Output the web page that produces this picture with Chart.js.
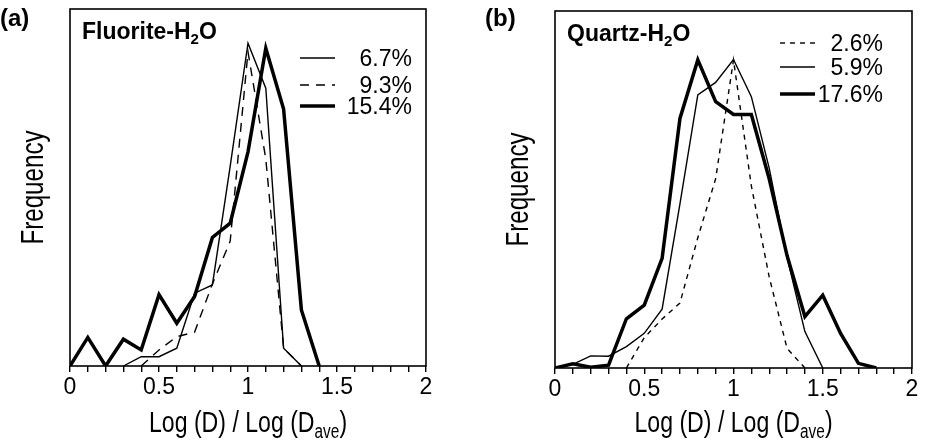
<!DOCTYPE html>
<html>
<head>
<meta charset="utf-8">
<script src="https://cdn.jsdelivr.net/npm/chart.js@4.4.1/dist/chart.umd.min.js"></script>
<style>
  html, body { margin: 0; padding: 0; background: #fff; }
  #wrap { position: relative; width: 930px; height: 443px; }
  canvas { position: absolute; top: 0; }
</style>
</head>
<body>
<div id="wrap">
  <canvas id="chartA" width="465" height="443" style="left:0"></canvas>
  <canvas id="chartB" width="465" height="443" style="left:465px"></canvas>
</div>
<script>
// (a) Fluorite-H2O
const xA = [0, 0.1, 0.2, 0.3, 0.4, 0.5, 0.6, 0.7, 0.8, 0.9, 1.0, 1.1, 1.2, 1.3, 1.4];
const fluorite67 = [null, null, null, 0, 2.6, 2.6, 5, 20.4, 22.7, 56, 90.4, 77.8, 5, 0, null];
const fluorite93 = [null, null, null, null, 0, 4.5, 8.2, 9.5, 23, 35, 88, 58, 5, 0, null];
const fluorite154 = [0, 8, 0, 7.5, 4.5, 20, 12, 19.5, 36, 40, 60, 89, 72, 15.7, 0];

// (b) Quartz-H2O
const xB = [0, 0.1, 0.2, 0.3, 0.4, 0.5, 0.6, 0.7, 0.8, 0.9, 1.0, 1.1, 1.2, 1.3, 1.4, 1.5, 1.6, 1.7, 1.8];
const quartz26 = [null, null, null, null, 0, 8.5, 13.7, 18.2, 36.5, 53, 86.3, 51, 25.5, 5.5, 0, null, null, null, null];
const quartz59 = [0, 1, 3.4, 3.3, 6, 9.7, 16.5, 46, 76.5, 80, 86.4, 76, 56, 31, 10.2, 0, null, null, null];
const quartz176 = [0, 1.2, 0.2, 0.8, 13.8, 17.6, 30.7, 69.9, 86.3, 74.6, 71, 71, 53, 31.5, 14.4, 20.4, 9.7, 1.3, 0];

const xTickLabels = ['0', '0.5', '1', '1.5', '2'];

const FONT = '"Liberation Sans", Arial, sans-serif';

function pts(xs, ys) {
  return xs.map((x, i) => ({ x: x, y: ys[i] }));
}

// text with a subscript part: [main, sub, rest]; k squeezes it sideways
function drawSub(ctx, parts, x, y, size, bold, align, k) {
  const w = bold ? 'bold ' : '';
  const big = w + size + 'px ' + FONT;
  const small = w + Math.round(size * 0.66) + 'px ' + FONT;
  ctx.font = big; const w1 = ctx.measureText(parts[0]).width;
  ctx.font = small; const w2 = ctx.measureText(parts[1]).width;
  ctx.font = big; const w3 = ctx.measureText(parts[2]).width;
  ctx.save();
  ctx.translate(x, y);
  ctx.scale(k || 1, 1);
  const sx = align === 'center' ? -(w1 + w2 + w3) / 2 : 0;
  ctx.textAlign = 'left';
  ctx.font = big; ctx.fillText(parts[0], sx, 0);
  ctx.font = small; ctx.fillText(parts[1], sx + w1, size * 0.2);
  ctx.font = big; ctx.fillText(parts[2], sx + w1 + w2, 0);
  ctx.restore();
}

const decor = {
  id: 'decor',
  afterDraw(chart, args, o) {
    const ctx = chart.ctx, a = chart.chartArea;
    ctx.save();
    ctx.strokeStyle = '#000';
    ctx.lineWidth = 1.6;
    ctx.setLineDash([]);
    ctx.strokeRect(a.left, a.top, a.right - a.left, a.bottom - a.top);
    ctx.fillStyle = '#000';
    ctx.textBaseline = 'alphabetic';
    // panel letter
    ctx.font = 'bold 24px ' + FONT;
    ctx.textAlign = 'left';
    ctx.fillText(o.letter, a.left - 70, 26);
    // inner label
    drawSub(ctx, o.name, a.left + 12, a.top + 30, 23, true, 'left', 1);
    // x title
    drawSub(ctx, ['Log (D) / Log (D', 'ave', ')'], (a.left + a.right) / 2, 432, 30, false, 'center', 0.77);
    // y title
    ctx.save();
    ctx.translate(a.left - 27, (a.top + a.bottom) / 2);
    ctx.rotate(-Math.PI / 2);
    ctx.scale(0.78, 1);
    ctx.font = '31px ' + FONT;
    ctx.textAlign = 'center';
    ctx.fillText('Frequency', 0, 0);
    ctx.restore();
    // legend
    chart.data.datasets.forEach((ds, i) => {
      const y = a.top + o.legendY[i];
      const x0 = a.left + o.legendX;
      ctx.beginPath();
      ctx.lineWidth = ds.borderWidth;
      ctx.setLineDash(ds.borderDash || []);
      ctx.moveTo(x0, y);
      ctx.lineTo(x0 + 35, y);
      ctx.stroke();
      ctx.setLineDash([]);
      ctx.font = '23px ' + FONT;
      ctx.textAlign = 'right';
      ctx.fillText(ds.label, a.left + o.textRight, y + 8);
    });
    ctx.restore();
  }
};

function makeChart(id, datasets, pad, xHeight, opts) {
  return new Chart(document.getElementById(id), {
    type: 'line',
    data: { datasets: datasets },
    options: {
      responsive: false,
      animation: false,
      devicePixelRatio: 1,
      layout: { padding: pad },
      elements: { point: { radius: 0 }, line: { tension: 0 } },
      plugins: { legend: { display: false }, tooltip: { enabled: false }, decor: opts },
      scales: {
        x: {
          type: 'linear', min: 0, max: 2,
          border: { display: false },
          grid: { drawOnChartArea: false, drawTicks: true, tickLength: 6, color: '#000', lineWidth: 1.4 },
          ticks: {
            stepSize: 0.1, autoSkip: false, maxRotation: 0, padding: 2,
            color: '#000', font: { family: FONT, size: 23 },
            callback: (v) => {
              const r = Math.round(v * 2);
              return Math.abs(v * 2 - r) < 1e-6 ? xTickLabels[r] : '';
            }
          },
          afterFit: (axis) => { axis.height = xHeight; }
        },
        y: { display: false, min: 0, max: 100 }
      }
    },
    plugins: [decor]
  });
}

makeChart('chartA', [
  { label: '6.7%', data: pts(xA, fluorite67), borderColor: '#000', borderWidth: 1.4 },
  { label: '9.3%', data: pts(xA, fluorite93), borderColor: '#000', borderWidth: 1.4, borderDash: [9, 7] },
  { label: '15.4%', data: pts(xA, fluorite154), borderColor: '#000', borderWidth: 3.5 }
], { left: 70, right: 39, top: 9, bottom: 0 }, 77,
  { letter: '(a)', name: ['Fluorite-H', '2', 'O'], legendX: 230, legendY: [49, 76, 97], textRight: 342 });

makeChart('chartB', [
  { label: '2.6%', data: pts(xB, quartz26), borderColor: '#000', borderWidth: 1.4, borderDash: [5, 5] },
  { label: '5.9%', data: pts(xB, quartz59), borderColor: '#000', borderWidth: 1.4 },
  { label: '17.6%', data: pts(xB, quartz176), borderColor: '#000', borderWidth: 3.5 }
], { left: 90, right: 18, top: 11, bottom: 0 }, 75,
  { letter: '(b)', name: ['Quartz-H', '2', 'O'], legendX: 225, legendY: [32, 56, 83], textRight: 328 });
</script>
</body>
</html>
